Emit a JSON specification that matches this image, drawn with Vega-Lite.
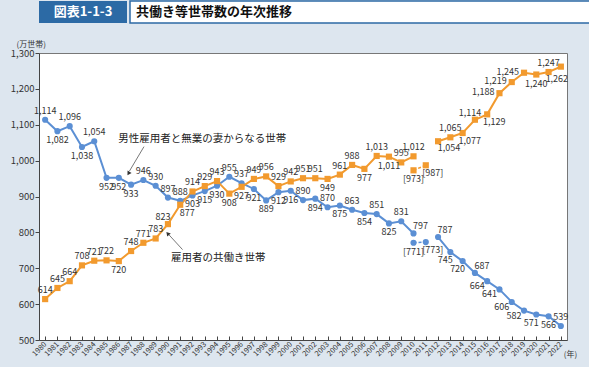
{
  "$schema": "https://vega.github.io/schema/vega-lite/v6.json",
  "background": "#dde6ef",
  "padding": {"left": 0, "top": 0, "right": 10, "bottom": 30},
  "config": {"font": "Noto Sans CJK JP", "view": {"stroke": null}},
  "datasets": {
    "households": [
      {"year": 1980, "series": "男性雇用者と無業の妻からなる世帯", "value": 1114, "ref": false},
      {"year": 1981, "series": "男性雇用者と無業の妻からなる世帯", "value": 1082, "ref": false},
      {"year": 1982, "series": "男性雇用者と無業の妻からなる世帯", "value": 1096, "ref": false},
      {"year": 1983, "series": "男性雇用者と無業の妻からなる世帯", "value": 1038, "ref": false},
      {"year": 1984, "series": "男性雇用者と無業の妻からなる世帯", "value": 1054, "ref": false},
      {"year": 1985, "series": "男性雇用者と無業の妻からなる世帯", "value": 952, "ref": false},
      {"year": 1986, "series": "男性雇用者と無業の妻からなる世帯", "value": 952, "ref": false},
      {"year": 1987, "series": "男性雇用者と無業の妻からなる世帯", "value": 933, "ref": false},
      {"year": 1988, "series": "男性雇用者と無業の妻からなる世帯", "value": 946, "ref": false},
      {"year": 1989, "series": "男性雇用者と無業の妻からなる世帯", "value": 930, "ref": false},
      {"year": 1990, "series": "男性雇用者と無業の妻からなる世帯", "value": 897, "ref": false},
      {"year": 1991, "series": "男性雇用者と無業の妻からなる世帯", "value": 888, "ref": false},
      {"year": 1992, "series": "男性雇用者と無業の妻からなる世帯", "value": 903, "ref": false},
      {"year": 1993, "series": "男性雇用者と無業の妻からなる世帯", "value": 915, "ref": false},
      {"year": 1994, "series": "男性雇用者と無業の妻からなる世帯", "value": 930, "ref": false},
      {"year": 1995, "series": "男性雇用者と無業の妻からなる世帯", "value": 955, "ref": false},
      {"year": 1996, "series": "男性雇用者と無業の妻からなる世帯", "value": 937, "ref": false},
      {"year": 1997, "series": "男性雇用者と無業の妻からなる世帯", "value": 921, "ref": false},
      {"year": 1998, "series": "男性雇用者と無業の妻からなる世帯", "value": 889, "ref": false},
      {"year": 1999, "series": "男性雇用者と無業の妻からなる世帯", "value": 912, "ref": false},
      {"year": 2000, "series": "男性雇用者と無業の妻からなる世帯", "value": 916, "ref": false},
      {"year": 2001, "series": "男性雇用者と無業の妻からなる世帯", "value": 890, "ref": false},
      {"year": 2002, "series": "男性雇用者と無業の妻からなる世帯", "value": 894, "ref": false},
      {"year": 2003, "series": "男性雇用者と無業の妻からなる世帯", "value": 870, "ref": false},
      {"year": 2004, "series": "男性雇用者と無業の妻からなる世帯", "value": 875, "ref": false},
      {"year": 2005, "series": "男性雇用者と無業の妻からなる世帯", "value": 863, "ref": false},
      {"year": 2006, "series": "男性雇用者と無業の妻からなる世帯", "value": 854, "ref": false},
      {"year": 2007, "series": "男性雇用者と無業の妻からなる世帯", "value": 851, "ref": false},
      {"year": 2008, "series": "男性雇用者と無業の妻からなる世帯", "value": 825, "ref": false},
      {"year": 2009, "series": "男性雇用者と無業の妻からなる世帯", "value": 831, "ref": false},
      {"year": 2010, "series": "男性雇用者と無業の妻からなる世帯", "value": 797, "ref": false},
      {"year": 2010, "series": "男性雇用者と無業の妻からなる世帯", "value": 771, "ref": true},
      {"year": 2011, "series": "男性雇用者と無業の妻からなる世帯", "value": 773, "ref": true},
      {"year": 2012, "series": "男性雇用者と無業の妻からなる世帯", "value": 787, "ref": false},
      {"year": 2013, "series": "男性雇用者と無業の妻からなる世帯", "value": 745, "ref": false},
      {"year": 2014, "series": "男性雇用者と無業の妻からなる世帯", "value": 720, "ref": false},
      {"year": 2015, "series": "男性雇用者と無業の妻からなる世帯", "value": 687, "ref": false},
      {"year": 2016, "series": "男性雇用者と無業の妻からなる世帯", "value": 664, "ref": false},
      {"year": 2017, "series": "男性雇用者と無業の妻からなる世帯", "value": 641, "ref": false},
      {"year": 2018, "series": "男性雇用者と無業の妻からなる世帯", "value": 606, "ref": false},
      {"year": 2019, "series": "男性雇用者と無業の妻からなる世帯", "value": 582, "ref": false},
      {"year": 2020, "series": "男性雇用者と無業の妻からなる世帯", "value": 571, "ref": false},
      {"year": 2021, "series": "男性雇用者と無業の妻からなる世帯", "value": 566, "ref": false},
      {"year": 2022, "series": "男性雇用者と無業の妻からなる世帯", "value": 539, "ref": false},
      {"year": 1980, "series": "雇用者の共働き世帯", "value": 614, "ref": false},
      {"year": 1981, "series": "雇用者の共働き世帯", "value": 645, "ref": false},
      {"year": 1982, "series": "雇用者の共働き世帯", "value": 664, "ref": false},
      {"year": 1983, "series": "雇用者の共働き世帯", "value": 708, "ref": false},
      {"year": 1984, "series": "雇用者の共働き世帯", "value": 721, "ref": false},
      {"year": 1985, "series": "雇用者の共働き世帯", "value": 722, "ref": false},
      {"year": 1986, "series": "雇用者の共働き世帯", "value": 720, "ref": false},
      {"year": 1987, "series": "雇用者の共働き世帯", "value": 748, "ref": false},
      {"year": 1988, "series": "雇用者の共働き世帯", "value": 771, "ref": false},
      {"year": 1989, "series": "雇用者の共働き世帯", "value": 783, "ref": false},
      {"year": 1990, "series": "雇用者の共働き世帯", "value": 823, "ref": false},
      {"year": 1991, "series": "雇用者の共働き世帯", "value": 877, "ref": false},
      {"year": 1992, "series": "雇用者の共働き世帯", "value": 914, "ref": false},
      {"year": 1993, "series": "雇用者の共働き世帯", "value": 929, "ref": false},
      {"year": 1994, "series": "雇用者の共働き世帯", "value": 943, "ref": false},
      {"year": 1995, "series": "雇用者の共働き世帯", "value": 908, "ref": false},
      {"year": 1996, "series": "雇用者の共働き世帯", "value": 927, "ref": false},
      {"year": 1997, "series": "雇用者の共働き世帯", "value": 949, "ref": false},
      {"year": 1998, "series": "雇用者の共働き世帯", "value": 956, "ref": false},
      {"year": 1999, "series": "雇用者の共働き世帯", "value": 929, "ref": false},
      {"year": 2000, "series": "雇用者の共働き世帯", "value": 942, "ref": false},
      {"year": 2001, "series": "雇用者の共働き世帯", "value": 951, "ref": false},
      {"year": 2002, "series": "雇用者の共働き世帯", "value": 951, "ref": false},
      {"year": 2003, "series": "雇用者の共働き世帯", "value": 949, "ref": false},
      {"year": 2004, "series": "雇用者の共働き世帯", "value": 961, "ref": false},
      {"year": 2005, "series": "雇用者の共働き世帯", "value": 988, "ref": false},
      {"year": 2006, "series": "雇用者の共働き世帯", "value": 977, "ref": false},
      {"year": 2007, "series": "雇用者の共働き世帯", "value": 1013, "ref": false},
      {"year": 2008, "series": "雇用者の共働き世帯", "value": 1011, "ref": false},
      {"year": 2009, "series": "雇用者の共働き世帯", "value": 995, "ref": false},
      {"year": 2010, "series": "雇用者の共働き世帯", "value": 1012, "ref": false},
      {"year": 2010, "series": "雇用者の共働き世帯", "value": 973, "ref": true},
      {"year": 2011, "series": "雇用者の共働き世帯", "value": 987, "ref": true},
      {"year": 2012, "series": "雇用者の共働き世帯", "value": 1054, "ref": false},
      {"year": 2013, "series": "雇用者の共働き世帯", "value": 1065, "ref": false},
      {"year": 2014, "series": "雇用者の共働き世帯", "value": 1077, "ref": false},
      {"year": 2015, "series": "雇用者の共働き世帯", "value": 1114, "ref": false},
      {"year": 2016, "series": "雇用者の共働き世帯", "value": 1129, "ref": false},
      {"year": 2017, "series": "雇用者の共働き世帯", "value": 1188, "ref": false},
      {"year": 2018, "series": "雇用者の共働き世帯", "value": 1219, "ref": false},
      {"year": 2019, "series": "雇用者の共働き世帯", "value": 1245, "ref": false},
      {"year": 2020, "series": "雇用者の共働き世帯", "value": 1240, "ref": false},
      {"year": 2021, "series": "雇用者の共働き世帯", "value": 1247, "ref": false},
      {"year": 2022, "series": "雇用者の共働き世帯", "value": 1262, "ref": false}
    ],
    "notes": [
      {"year": 1985.96, "value": 1059, "text": "男性雇用者と無業の妻からなる世帯"},
      {"year": 1990.25, "value": 728, "text": "雇用者の共働き世帯"}
    ],
    "leaders": [
      {"year": 1988.05, "value": 1039, "year2": 1986.87, "value2": 971},
      {"year": 1991.19, "value": 752, "year2": 1990.09, "value2": 793}
    ]
  },
  "spacing": 15,
  "vconcat": [
    {
      "spacing": 2,
      "hconcat": [
        {
          "width": 88, "height": 22,
          "view": {"fill": "#2c6aa5", "stroke": null},
          "data": {"values": [{"label": "図表1-1-3"}]},
          "mark": {"type": "text", "color": "white", "fontSize": 13, "fontWeight": "bold", "baseline": "middle"},
          "encoding": {"text": {"field": "label"}}
        },
        {
          "width": 496, "height": 22,
          "view": {"fill": "white", "stroke": "#2c6aa5", "strokeWidth": 1.5},
          "data": {"values": [{"label": "共働き等世帯数の年次推移"}]},
          "mark": {"type": "text", "color": "#111", "fontSize": 13, "fontWeight": "bold", "align": "left", "baseline": "middle", "dx": -242},
          "encoding": {"text": {"field": "label"}}
        }
      ]
    },
    {
      "width": 528, "height": 287,
      "view": {"fill": "white", "stroke": "#777", "strokeWidth": 1},
      "data": {"name": "households"},
      "encoding": {
        "x": {
          "field": "year", "type": "quantitative",
          "scale": {"domain": [1979.5, 2022.5], "nice": false, "zero": false},
          "axis": {
            "values": [1980,1981,1982,1983,1984,1985,1986,1987,1988,1989,1990,1991,1992,1993,1994,1995,1996,1997,1998,1999,2000,2001,2002,2003,2004,2005,2006,2007,2008,2009,2010,2011,2012,2013,2014,2015,2016,2017,2018,2019,2020,2021,2022],
            "format": "d", "labelAngle": -45, "labelAlign": "right", "labelBaseline": "middle",
            "labelFontSize": 7.5, "labelColor": "#333", "labelFlush": false, "labelOverlap": false,
            "tickSize": -4, "labelPadding": 7, "tickColor": "#444", "domainColor": "#444", "grid": false,
            "title": "(年)", "titleX": 531, "titleY": 14.5, "titleAngle": 0, "titleAlign": "center", "titleBaseline": "middle",
            "titleFontSize": 8, "titleFontWeight": "normal", "titleColor": "#333"
          }
        },
        "y": {
          "field": "value", "type": "quantitative",
          "scale": {"domain": [500, 1300], "nice": false, "zero": false},
          "axis": {
            "values": [500,600,700,800,900,1000,1100,1200,1300],
            "format": ",d", "labelFontSize": 9.5, "labelColor": "#333", "labelFlush": false,
            "tickSize": 4, "labelPadding": 1, "tickColor": "#444", "domainColor": "#444", "grid": false,
            "title": "(万世帯)", "titleX": -23, "titleY": -9, "titleAngle": 0, "titleAlign": "left", "titleBaseline": "middle",
            "titleFontSize": 8, "titleFontWeight": "normal", "titleColor": "#333",
            "minExtent": 38, "maxExtent": 38
          }
        }
      },
      "layer": [
        {
          "transform": [{"filter": "!datum.ref && datum.year <= 2010"}],
          "mark": {"type": "line", "strokeWidth": 2},
          "encoding": {"color": {"field": "series", "type": "nominal", "scale": {"domain": ["男性雇用者と無業の妻からなる世帯", "雇用者の共働き世帯"], "range": ["#5b8fd4", "#f29a2e"]}, "legend": null}}
        },
        {
          "transform": [{"filter": "!datum.ref && datum.year >= 2012"}],
          "mark": {"type": "line", "strokeWidth": 2},
          "encoding": {"color": {"field": "series", "type": "nominal", "legend": null}}
        },
        {
          "transform": [{"filter": "datum.ref"}],
          "mark": {"type": "line", "strokeWidth": 1.5, "strokeDash": [3, 2]},
          "encoding": {"color": {"field": "series", "type": "nominal", "legend": null}}
        },
        {
          "mark": {"type": "point", "filled": true, "opacity": 1, "size": 38},
          "encoding": {
            "color": {"field": "series", "type": "nominal", "legend": null},
            "shape": {"field": "series", "type": "nominal", "scale": {"domain": ["男性雇用者と無業の妻からなる世帯", "雇用者の共働き世帯"], "range": ["circle", "square"]}, "legend": null}
          }
        },
        {
          "transform": [
            {"calculate": "datum.ref ? '[' + format(datum.value, ',') + ']' : format(datum.value, ',')", "as": "label"},
            {"filter": "(datum.series === '男性雇用者と無業の妻からなる世帯' && !datum.ref && indexof([1980,1982,1984,1988,1989,1990,1991,1995,1996,2001,2003,2005,2007,2009,2022], datum.year) >= 0) || (datum.series === '雇用者の共働き世帯' && !datum.ref && indexof([1980,1981,1982,1983,1984,1985,1987,1988,1989,1992,1993,1994,1997,1998,1999,2000,2001,2002,2004,2005,2007,2009,2010,2013,2021], datum.year) >= 0)"}
          ],
          "mark": {"type": "text", "fontSize": 9, "color": "#333", "dy": -9},
          "encoding": {"text": {"field": "label"}}
        },
        {
          "transform": [
            {"calculate": "datum.ref ? '[' + format(datum.value, ',') + ']' : format(datum.value, ',')", "as": "label"},
            {"filter": "(datum.series === '男性雇用者と無業の妻からなる世帯' && !datum.ref && indexof([1981,1983,1985,1986,1987,1992,1993,1994,1997,1998,1999,2000,2002,2004,2006,2008,2021], datum.year) >= 0) || (datum.series === '雇用者の共働き世帯' && !datum.ref && indexof([1986,1995,1996,2003,2006,2008,2020], datum.year) >= 0) || (datum.ref && datum.year === 2010)"}
          ],
          "mark": {"type": "text", "fontSize": 9, "color": "#333", "dy": 9},
          "encoding": {"text": {"field": "label"}}
        },
        {
          "transform": [
            {"calculate": "format(datum.value, ',')", "as": "label"},
            {"filter": "datum.series === '男性雇用者と無業の妻からなる世帯' && !datum.ref && indexof([2013,2014,2020], datum.year) >= 0"}
          ],
          "mark": {"type": "text", "fontSize": 9, "color": "#333", "dx": -5, "dy": 8},
          "encoding": {"text": {"field": "label"}}
        },
        {
          "transform": [
            {"calculate": "format(datum.value, ',')", "as": "label"},
            {"filter": "datum.series === '男性雇用者と無業の妻からなる世帯' && !datum.ref && indexof([2016,2017,2018,2019], datum.year) >= 0"}
          ],
          "mark": {"type": "text", "fontSize": 9, "color": "#333", "dx": -10, "dy": 5},
          "encoding": {"text": {"field": "label"}}
        },
        {
          "transform": [
            {"calculate": "format(datum.value, ',')", "as": "label"},
            {"filter": "datum.series === '男性雇用者と無業の妻からなる世帯' && !datum.ref && indexof([2010,2012,2015], datum.year) >= 0"}
          ],
          "mark": {"type": "text", "fontSize": 9, "color": "#333", "dx": 7, "dy": -7},
          "encoding": {"text": {"field": "label"}}
        },
        {
          "transform": [
            {"calculate": "format(datum.value, ',')", "as": "label"},
            {"filter": "datum.series === '雇用者の共働き世帯' && !datum.ref && indexof([1990,2015], datum.year) >= 0"}
          ],
          "mark": {"type": "text", "fontSize": 9, "color": "#333", "dx": -5, "dy": -7},
          "encoding": {"text": {"field": "label"}}
        },
        {
          "transform": [
            {"calculate": "datum.ref ? '[' + format(datum.value, ',') + ']' : format(datum.value, ',')", "as": "label"},
            {"filter": "(datum.ref && datum.year === 2011) || (datum.series === '雇用者の共働き世帯' && !datum.ref && indexof([1991,2014,2016], datum.year) >= 0)"}
          ],
          "mark": {"type": "text", "fontSize": 9, "color": "#333", "dx": 7, "dy": 8},
          "encoding": {"text": {"field": "label"}}
        },
        {
          "transform": [
            {"calculate": "format(datum.value, ',')", "as": "label"},
            {"filter": "datum.series === '雇用者の共働き世帯' && !datum.ref && datum.year === 2012"}
          ],
          "mark": {"type": "text", "fontSize": 9, "color": "#333", "dx": 11, "dy": 7},
          "encoding": {"text": {"field": "label"}}
        },
        {
          "transform": [
            {"calculate": "format(datum.value, ',')", "as": "label"},
            {"filter": "datum.series === '雇用者の共働き世帯' && !datum.ref && indexof([2017,2018,2019], datum.year) >= 0"}
          ],
          "mark": {"type": "text", "fontSize": 9, "color": "#333", "align": "right", "dx": -5, "dy": -1},
          "encoding": {"text": {"field": "label"}}
        },
        {
          "transform": [
            {"calculate": "format(datum.value, ',')", "as": "label"},
            {"filter": "datum.series === '雇用者の共働き世帯' && !datum.ref && datum.year === 2022"}
          ],
          "mark": {"type": "text", "fontSize": 9, "color": "#333", "dx": -4, "dy": 12},
          "encoding": {"text": {"field": "label"}}
        },
        {
          "data": {"name": "notes"},
          "mark": {"type": "text", "fontSize": 10.5, "color": "#222", "align": "left", "baseline": "middle"},
          "encoding": {"text": {"field": "text"}}
        },
        {
          "data": {"name": "leaders"},
          "mark": {"type": "rule", "color": "#555", "strokeWidth": 0.8},
          "encoding": {"x2": {"field": "year2"}, "y2": {"field": "value2"}}
        },
        {
          "data": {"values": [{"year": 1986.79, "value": 964}]},
          "mark": {"type": "point", "shape": "triangle-up", "filled": true, "opacity": 1, "color": "#333", "size": 22, "angle": 211},
          "encoding": {}
        },
        {
          "data": {"values": [{"year": 1989.98, "value": 797}]},
          "mark": {"type": "point", "shape": "triangle-up", "filled": true, "opacity": 1, "color": "#333", "size": 22, "angle": 319},
          "encoding": {}
        }
      ]
    }
  ]
}
